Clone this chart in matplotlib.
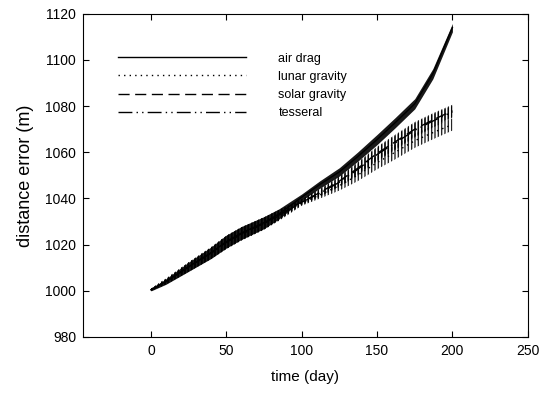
import matplotlib
matplotlib.use("Agg")
import matplotlib.pyplot as plt

plt.rcParams['font.family'] = ['Liberation Sans', 'DejaVu Sans']

# values (band centre and half width of the oscillation)
days = [0, 10, 25, 40, 50, 60, 75, 85, 100, 112, 125, 137, 150, 162, 175, 187, 200]
air_drag = [1000.4, 1004, 1010.4, 1016.5, 1021.3, 1025, 1029.5, 1033.3, 1040.5, 1046,
            1051.5, 1058, 1065.5, 1072.8, 1081, 1094, 1114]
lunar = [1000.4, 1004, 1010.2, 1016.3, 1020.8, 1024.5, 1029, 1032.5, 1038, 1041.5,
         1045.5, 1050, 1055.5, 1060, 1065, 1068.5, 1072]
solar = [1000.4, 1004, 1010.3, 1016.4, 1021, 1024.7, 1029.2, 1032.8, 1038.5, 1042.5,
         1047.5, 1053, 1059.5, 1064.5, 1070, 1074, 1078]
tesseral = [1000.4, 1004, 1010.3, 1016.4, 1021, 1024.7, 1029.2, 1032.8, 1038.3, 1042.2,
            1047, 1052.5, 1059, 1064, 1069.5, 1073.5, 1077.5]
drag_hw = [0.5, 1.2, 2.0, 2.5, 2.8, 2.8, 2.6, 2.2, 1.4, 1.6, 1.8, 2.0, 2.2, 2.2, 2.2, 2.2, 1.8]
grav_hw = [0.5, 1.2, 2.0, 2.5, 2.8, 2.8, 2.6, 2.2, 1.2, 1.6, 2.1, 2.6, 2.9, 3.1, 3.1, 2.9, 2.6]

labels = ['air drag', 'lunar gravity', 'solar gravity', 'tesseral']
series = [air_drag, lunar, solar, tesseral]
widths = [drag_hw, grav_hw, grav_hw, grav_hw]
styles = ['-', (0, (1, 3)), (0, (8, 4)), (0, (10, 3, 1, 3, 1, 3))]

fig = plt.figure(figsize=(5.43, 3.94), dpi=100)
ax = fig.add_axes([0.153, 0.145, 0.819, 0.82])

for s, hw, lab, ls in zip(series, widths, labels, styles):
    lo = [v - w for v, w in zip(s, hw)]
    hi = [v + w for v, w in zip(s, hw)]
    if lab == 'air drag':
        ax.fill_between(days, lo, hi, color='k', lw=0, alpha=0.9)
    else:
        ax.fill_between(days, lo, hi, facecolor='none', edgecolor='k', hatch='|||||', lw=0, alpha=0.85)
    ax.plot(days, s, color='k', lw=1.0, linestyle=ls, label=lab)

ax.set_xlim(-45, 250)
ax.set_ylim(980, 1120)
ax.set_xticks([0, 50, 100, 150, 200, 250])
ax.set_yticks(range(980, 1121, 20))
ax.tick_params(direction='in', top=True, right=True, labelsize=10, length=4, pad=5)
ax.set_xlabel('time (day)', fontsize=11, labelpad=9)
ax.set_ylabel('distance error (m)', fontsize=13, labelpad=8)

ax.legend(loc='upper left', bbox_to_anchor=(0.054, 0.915), frameon=False, fontsize=9,
          handlelength=10.2, handletextpad=2.6, labelspacing=0.5)

fig.savefig('out.png', dpi=100)
